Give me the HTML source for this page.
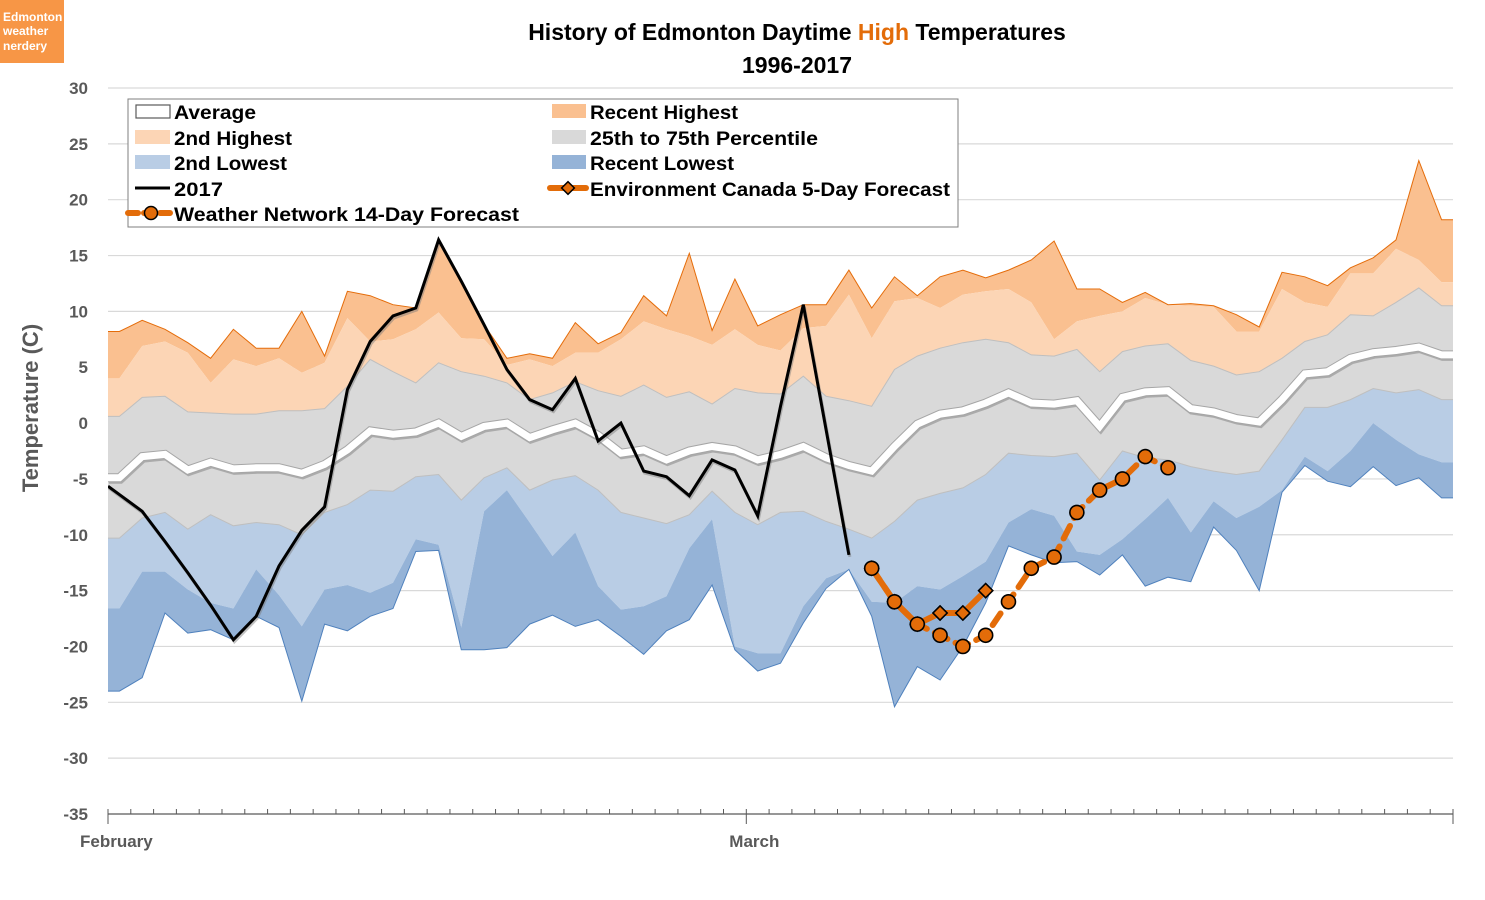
<!DOCTYPE html>
<html><head><meta charset="utf-8">
<style>
html,body{margin:0;padding:0;background:#fff;}
svg{display:block;font-family:"Liberation Sans",sans-serif;}
</style></head>
<body>
<svg id="chart" width="1485" height="900" viewBox="0 0 1485 900" xmlns="http://www.w3.org/2000/svg">
  <defs>
    <clipPath id="plotclip"><rect x="108" y="60" width="1345" height="760"/></clipPath>
  </defs>
  <rect x="0" y="0" width="1485" height="900" fill="#fff"/>
  <g>
    <rect x="0" y="0" width="64" height="63" fill="#F79646"/>
    <text x="3" y="21" font-size="12" font-weight="bold" fill="#fff">Edmonton</text>
    <text x="3" y="35" font-size="12" font-weight="bold" fill="#fff">weather</text>
    <text x="3" y="50" font-size="12" font-weight="bold" fill="#fff">nerdery</text>
  </g>
  <text x="797" y="40" text-anchor="middle" font-size="23" font-weight="bold" fill="#000">History of Edmonton Daytime <tspan fill="#E36C09">High</tspan> Temperatures</text>
  <text x="797" y="73" text-anchor="middle" font-size="23" font-weight="bold" fill="#000">1996-2017</text>
  <text transform="translate(38,408) rotate(-90)" text-anchor="middle" font-size="22" font-weight="bold" fill="#595959">Temperature (C)</text>
  <g id="grid"></g>
  <g id="yticks"></g>
  <g id="plot" clip-path="url(#plotclip)"></g>
  <g id="xaxis"></g>
  <g id="legend">
    <rect x="128" y="99" width="830" height="128" fill="#fff" stroke="#7f7f7f" stroke-width="1"/>
    <g>
      <rect x="136" y="105" width="34" height="13" fill="#fff" stroke="#595959" stroke-width="1.2"/>
      <text x="174" y="119" font-size="19" font-weight="bold" textLength="82" lengthAdjust="spacingAndGlyphs">Average</text>
    </g>
    <g>
      <rect x="135" y="130" width="35" height="14" fill="#FCD5B5"/>
      <text x="174" y="145" font-size="19" font-weight="bold" textLength="118" lengthAdjust="spacingAndGlyphs">2nd Highest</text>
    </g>
    <g>
      <rect x="135" y="155" width="35" height="14" fill="#B9CDE5"/>
      <text x="174" y="170" font-size="19" font-weight="bold" textLength="113" lengthAdjust="spacingAndGlyphs">2nd Lowest</text>
    </g>
    <g>
      <line x1="135" y1="188" x2="170" y2="188" stroke="#000" stroke-width="3"/>
      <text x="174" y="196" font-size="19" font-weight="bold" textLength="49" lengthAdjust="spacingAndGlyphs">2017</text>
    </g>
    <g>
      <line x1="128" y1="213" x2="170" y2="213" stroke="#E36C09" stroke-width="6" stroke-linecap="round" stroke-dasharray="10 6"/>
      <circle cx="151" cy="213" r="6.5" fill="#E36C09" stroke="#000" stroke-width="1.5"/>
      <text x="174" y="221" font-size="19" font-weight="bold" textLength="345" lengthAdjust="spacingAndGlyphs">Weather Network 14-Day Forecast</text>
    </g>
    <g>
      <rect x="552" y="104" width="34" height="14" fill="#FAC090"/>
      <text x="590" y="119" font-size="19" font-weight="bold" textLength="148" lengthAdjust="spacingAndGlyphs">Recent Highest</text>
    </g>
    <g>
      <rect x="552" y="130" width="34" height="14" fill="#D9D9D9"/>
      <text x="590" y="145" font-size="19" font-weight="bold" textLength="228" lengthAdjust="spacingAndGlyphs">25th to 75th Percentile</text>
    </g>
    <g>
      <rect x="552" y="155" width="34" height="14" fill="#95B3D7"/>
      <text x="590" y="170" font-size="19" font-weight="bold" textLength="144" lengthAdjust="spacingAndGlyphs">Recent Lowest</text>
    </g>
    <g>
      <line x1="550" y1="188" x2="586" y2="188" stroke="#E36C09" stroke-width="6" stroke-linecap="round"/>
      <rect x="563.5" y="183.5" width="9" height="9" fill="#E36C09" stroke="#000" stroke-width="1.5" transform="rotate(45 568 188)"/>
      <text x="590" y="196" font-size="19" font-weight="bold" textLength="360" lengthAdjust="spacingAndGlyphs">Environment Canada 5-Day Forecast</text>
    </g>
  </g>
</svg>
<script>
const recentHigh = [8.2,9.2,8.4,7.2,5.8,8.4,6.7,6.7,10.0,6.0,11.8,11.4,10.6,10.3,16.4, 12.5,8.8,5.8,6.2,5.8,9.0,7.1,8.1,11.4,9.6,15.2,8.3,12.9,8.7,9.7, 10.6,10.6,13.7,10.3,13.1,11.4,13.1,13.7,13.0,13.7,14.6,16.3,12.0,12.0,10.8, 11.7,10.6,10.7,10.5,9.7,8.6,13.5,13.1,12.3,13.9,14.8,16.4,23.5,18.2];
const secondHigh = [4.0,6.9,7.3,6.3,3.6,5.7,5.1,5.8,4.5,5.4,9.4,7.3,7.5,8.4,9.9, 7.6,7.5,5.2,5.7,5.1,6.3,6.3,7.5,9.1,8.4,7.8,7.0,8.4,7.0,6.5, 8.5,8.7,11.5,7.6,10.9,11.2,10.3,11.5,11.8,12.0,10.8,7.5,9.1,9.6,10.0, 11.2,10.6,10.5,10.4,8.2,8.2,12.0,10.8,10.4,13.4,13.4,15.6,14.6,12.6];
const pct75 = [0.6,2.3,2.4,1.0,0.9,0.8,0.8,1.1,1.1,1.3,3.3,5.7,4.6,3.6,5.4, 4.6,4.2,3.6,2.1,2.7,3.7,2.9,2.4,3.4,2.3,2.8,1.7,3.1,2.7,2.6, 4.2,2.4,2.0,1.5,4.8,6.0,6.7,7.2,7.5,7.2,6.1,6.0,6.6,4.6,6.4, 6.9,7.1,5.6,5.1,4.3,4.6,5.8,7.3,7.9,9.7,9.6,10.8,12.1,10.5];
const average = [-4.9,-3.0,-2.8,-4.2,-3.5,-4.1,-4.0,-4.0,-4.5,-3.7,-2.4,-0.7,-1.0,-0.8,0.0, -1.2,-0.3,0.0,-1.3,-0.6,0.0,-1.1,-2.7,-2.4,-3.3,-2.5,-2.1,-2.4,-3.3,-2.8, -2.1,-3.1,-3.8,-4.3,-2.1,-0.1,0.8,1.1,1.8,2.7,1.8,1.7,2.0,-0.3,2.3, 2.8,2.9,1.3,1.0,0.4,0.1,2.1,4.4,4.6,5.8,6.3,6.5,6.8,6.1];
const pct25 = [-10.3,-8.5,-8.0,-9.5,-8.2,-9.2,-8.9,-9.1,-10.0,-8.0,-7.3,-6.0,-6.1,-4.8,-4.6, -6.9,-4.9,-4.0,-6.0,-5.1,-4.7,-6.0,-8.0,-8.5,-9.0,-8.2,-6.1,-8.0,-9.1,-8.0, -7.9,-8.8,-9.5,-10.3,-8.8,-6.9,-6.3,-5.8,-4.6,-2.7,-2.9,-3.0,-2.7,-5.1,-2.5, -3.1,-3.3,-3.9,-4.3,-4.6,-4.3,-1.5,1.4,1.4,2.1,3.1,2.7,3.0,2.1];
const secondLow = [-16.6,-13.3,-13.3,-14.9,-16.1,-16.6,-13.1,-15.4,-18.2,-14.9,-14.5,-15.2,-14.3,-10.4,-10.9, -18.3,-7.9,-6.0,-8.9,-11.9,-9.8,-14.6,-16.7,-16.4,-15.5,-11.2,-8.6,-20.0,-20.6,-20.6, -16.4,-13.9,-13.1,-16.0,-16.1,-14.6,-14.9,-13.7,-12.4,-8.9,-7.7,-8.3,-11.5,-11.8,-10.4, -8.6,-6.7,-9.8,-7.0,-8.5,-7.5,-6.0,-3.0,-4.3,-2.5,0.0,-1.5,-2.8,-3.5];
const recentLow = [-24.0,-22.8,-17.0,-18.8,-18.5,-19.4,-17.3,-18.3,-24.9,-18.0,-18.6,-17.3,-16.6,-11.5,-11.4, -20.3,-20.3,-20.1,-18.0,-17.2,-18.2,-17.6,-19.1,-20.7,-18.6,-17.6,-14.5,-20.3,-22.2,-21.5, -17.9,-14.8,-13.1,-17.3,-25.4,-21.8,-23.0,-20.0,-16.1,-11.0,-11.8,-12.5,-12.4,-13.6,-11.8, -14.6,-13.8,-14.2,-9.3,-11.4,-15.0,-6.2,-3.8,-5.2,-5.7,-3.9,-5.6,-4.9,-6.7];
const year2017 = [-6.4,-7.9,-10.6,-13.4,-16.3,-19.4,-17.3,-12.8,-9.6,-7.5,3.0,7.3,9.6,10.3,16.4, 12.7,8.8,4.8,2.1,1.2,4.0,-1.6,0.0,-4.3,-4.8,-6.5,-3.3,-4.2,-8.3,1.5, 10.6,-0.6,-11.8];
const wnStart = 33;
const weatherNetwork = [-13,-16,-18,-19,-20,-19,-16,-13,-12,-8,-6,-5,-3,-4];
const ecStart = 33;
const envCanada = [-13,-16,-18,-17,-17,-15];
const yTicks = [30,25,20,15,10,5,0,-5,-10,-15,-20,-25,-30,-35];
const monthLabels = ["February","March"];
const monthStarts = [0,28];
const nDays = 59;

const NS = "http://www.w3.org/2000/svg";
const X0 = 108, X1 = 1453, YTOP = 88, YBOT = 814, VMAX = 30, VMIN = -35;
const step = (X1 - X0) / nDays;
function xs(i){ return X0 + (i + 0.5) * step; }
function ys(v){ return YTOP + (VMAX - v) * (YBOT - YTOP) / (VMAX - VMIN); }
function mk(tag, attrs, parent){
  const e = document.createElementNS(NS, tag);
  for (const k in attrs) e.setAttribute(k, attrs[k]);
  parent.appendChild(e);
  return e;
}
function linePts(arr, start){
  return arr.map((v,k)=>[xs(start+k), ys(v)]);
}
function edgePts(arr){
  const p = linePts(arr, 0);
  p.unshift([X0, ys(arr[0])]);
  p.push([X1, ys(arr[arr.length-1])]);
  return p;
}
function ptsStr(p){ return p.map(q=>q[0].toFixed(1)+","+q[1].toFixed(1)).join(" "); }

const grid = document.getElementById("grid");
const yt = document.getElementById("yticks");
yTicks.forEach(v=>{
  if (v > VMIN) {
    const gl = mk("line", {x1:X0, x2:X1, y1:ys(v), y2:ys(v), stroke:"#D9D9D9", "stroke-width":1.2}, grid);
    
    
  }
  const t = mk("text", {x:88, y:ys(v)+6, "text-anchor":"end", "font-size":17, "font-weight":"bold", fill:"#595959"}, yt);
  t.textContent = String(v);
  
  
});

const plot = document.getElementById("plot");
function band(top, bot, fill, name){
  const a = edgePts(top), b = edgePts(bot).reverse();
  const p = mk("polygon", {points: ptsStr(a.concat(b)), fill: fill}, plot);
  
  
  return p;
}
band(recentHigh, secondHigh, "#FAC090", "recent-highest-band");
band(secondHigh, pct75, "#FCD5B5", "second-highest-band");
band(pct75, pct25, "#D9D9D9", "percentile-band");
band(pct25, secondLow, "#B9CDE5", "second-lowest-band");
band(secondLow, recentLow, "#95B3D7", "recent-lowest-band");
function pl(arr, start, attrs, name, edges){
  const p = edges ? edgePts(arr) : linePts(arr, start);
  attrs.points = ptsStr(p); attrs.fill = "none";
  const e = mk("polyline", attrs, plot);
  
  
  return e;
}
pl(recentHigh, 0, {stroke:"#E46C0A", "stroke-width":1}, "recent-highest-line", true);
pl(pct75, 0, {stroke:"#BFBFBF", "stroke-width":1}, "percentile-75-line", true);
pl(pct25, 0, {stroke:"#BFBFBF", "stroke-width":1}, "percentile-25-line", true);
pl(recentLow, 0, {stroke:"#4F81BD", "stroke-width":1}, "recent-lowest-line", true);
// average: shadow + white line
const avgShadow = pl(average, 0, {stroke:"#8c8c8c", "stroke-width":8, "stroke-opacity":0.6, transform:"translate(1,2)", "stroke-linejoin":"miter"}, "average-shadow", true);
pl(average, 0, {stroke:"#A6A6A6", "stroke-width":9}, "average-outline", true);
pl(average, 0, {stroke:"#FFFFFF", "stroke-width":7}, "average-line", true);

// 2017 line with slight extrapolation to left edge
(function(){
  const p = linePts(year2017, 0);
  const e0 = [X0, ys(year2017[0] + (year2017[0]-year2017[1]) * (xs(0)-X0)/step)];
  p.unshift(e0);
  const sh = mk("polyline", {points: ptsStr(p), fill:"none", stroke:"#777", "stroke-opacity":0.45, "stroke-width":3, transform:"translate(1,2)"}, plot);
  
  
  const ln = mk("polyline", {points: ptsStr(p), fill:"none", stroke:"#000", "stroke-width":3, "stroke-linejoin":"miter"}, plot);
  
  
})();

// Environment Canada forecast (solid + diamonds)
pl(envCanada, ecStart, {stroke:"#E36C09", "stroke-width":6, "stroke-linecap":"round", "stroke-linejoin":"round"}, "environment-canada-line", false);
envCanada.forEach((v,k)=>{
  const cx = xs(ecStart+k), cy = ys(v);
  const d = mk("rect", {x:cx-5, y:cy-5, width:10, height:10, fill:"#E36C09", stroke:"#000", "stroke-width":1.5, transform:`rotate(45 ${cx} ${cy})`}, plot);
  
  
});
// Weather Network forecast (dashed + circles)
pl(weatherNetwork, wnStart, {stroke:"#E36C09", "stroke-width":6, "stroke-linecap":"round", "stroke-dasharray":"14 9"}, "weather-network-line", false);
weatherNetwork.forEach((v,k)=>{
  if (k >= 3 || true) {
    const c = mk("circle", {cx:xs(wnStart+k), cy:ys(v), r:7, fill:"#E36C09", stroke:"#000", "stroke-width":1.6}, plot);
    
    
  }
});
// redraw EC diamonds that are not covered by WN circles on top
envCanada.forEach((v,k)=>{
  const i = ecStart + k;
  const wn = weatherNetwork[i - wnStart];
  if (wn !== v) {
    const cx = xs(i), cy = ys(v);
    const d = mk("rect", {x:cx-5, y:cy-5, width:10, height:10, fill:"#E36C09", stroke:"#000", "stroke-width":1.5, transform:`rotate(45 ${cx} ${cy})`}, plot);
    
    
  }
});

// x axis
const xa = document.getElementById("xaxis");
const axl = mk("line", {x1:X0, x2:X1, y1:YBOT, y2:YBOT, stroke:"#595959", "stroke-width":1.3}, xa);


for (let i = 0; i <= nDays; i++) {
  const x = X0 + i*step;
  const major = monthStarts.indexOf(i) >= 0 || i === nDays;
  const t = mk("line", {x1:x, x2:x, y1: YBOT-5, y2: major ? YBOT+10 : YBOT, stroke:"#595959", "stroke-width":1}, xa);
  
  
}
monthLabels.forEach((m,k)=>{
  const t = mk("text", {x: X0 + monthStarts[k]*step + (k===0 ? -28 : -17), y: 847, "font-size":17, "font-weight":"bold", fill:"#595959"}, xa);
  t.textContent = m;
  
  
});
</script>
</body></html>
